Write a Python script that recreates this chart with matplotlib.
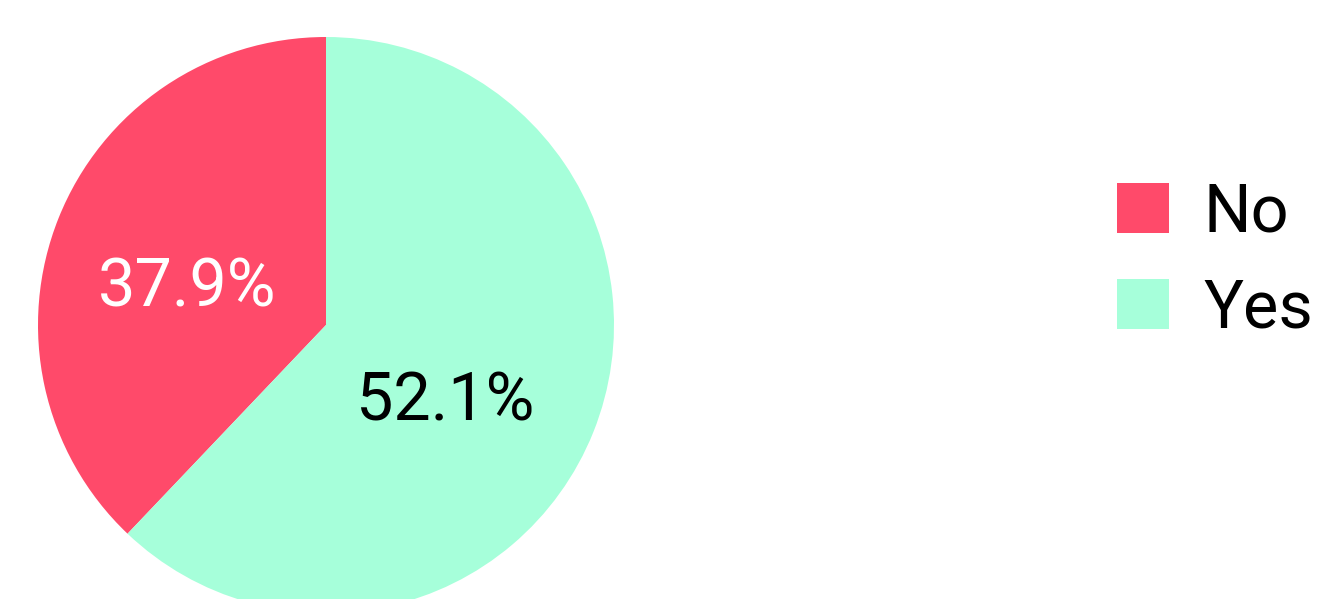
import numpy as np
import matplotlib.pyplot as plt
from matplotlib.patches import Patch

plt.rcParams["font.family"] = ["Roboto", "DejaVu Sans"]

categories = ["No", "Yes"]
shares = [37.9, 62.1]
pct_labels = ["37.9%", "52.1%"]
colors = ["#FF4A6A", "#A6FFDA"]
text_colors = ["white", "black"]
# small nudges of the label text away from the wedge midpoint
nudges = [(-0.018, -0.12), (-0.052, -0.146)]

fig = plt.figure(figsize=(13.18, 5.99), dpi=100)
W, H = 1318, 599
ax = fig.add_axes([38 / W, -14 / H, 576 / W, 576 / H])

wedges, _ = ax.pie(shares, colors=colors, startangle=90, counterclock=True,
                   radius=1.0, wedgeprops=dict(linewidth=0))
ax.set_xlim(-1, 1)
ax.set_ylim(-1, 1)
ax.set_aspect("equal")
ax.axis("off")

for w, lab, tc, (dx, dy) in zip(wedges, pct_labels, text_colors, nudges):
    mid = np.deg2rad((w.theta1 + w.theta2) / 2)
    ax.text(0.5 * np.cos(mid) + dx, 0.5 * np.sin(mid) + dy, lab,
            ha="center", va="baseline", fontsize=48, color=tc)

handles = [Patch(facecolor=c, edgecolor="none") for c in colors]
fig.legend(handles, categories, loc="center left",
           bbox_to_anchor=(1117 / W, 1 - 261 / H), frameon=False,
           fontsize=48, handlelength=0.78, handleheight=0.78,
           handletextpad=0.52, labelspacing=0.48, borderpad=0, borderaxespad=0)

fig.savefig("out.png", dpi=100)
